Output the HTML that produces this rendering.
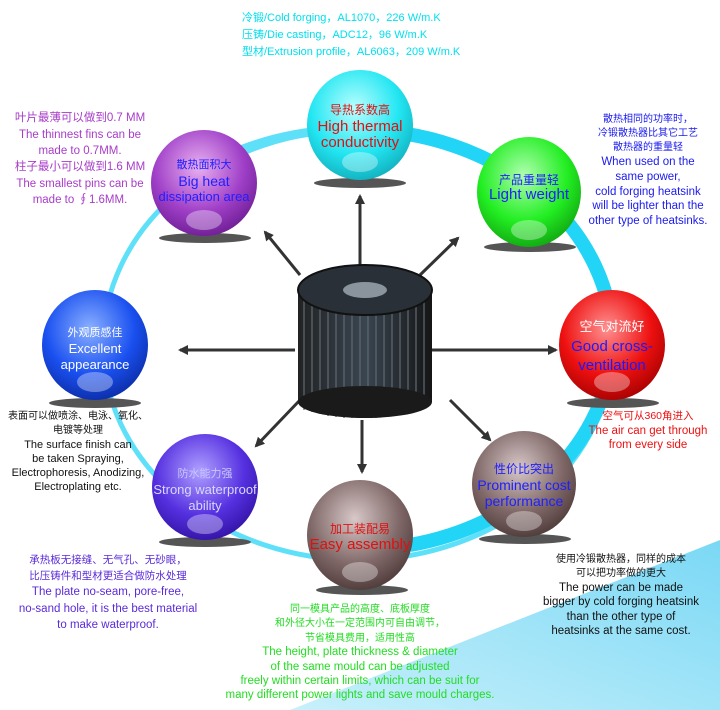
<!DOCTYPE html>
<html><head><meta charset="utf-8"><style>
html,body{margin:0;padding:0;background:#fff;}
svg{display:block;font-family:"Liberation Sans","Noto Sans CJK SC",sans-serif;}
</style></head><body>
<svg width="720" height="710" viewBox="0 0 720 710" xmlns="http://www.w3.org/2000/svg">
<defs>
<linearGradient id="bg" x1="0" y1="1" x2="1" y2="0">
<stop offset="0" stop-color="#c8f0fb"/><stop offset="1" stop-color="#7ad8f5"/></linearGradient>
<radialGradient id="gc" cx="0.45" cy="0.35" r="0.7"><stop offset="0" stop-color="#b8ffff"/><stop offset="0.6" stop-color="#22e6f2"/><stop offset="1" stop-color="#10aab8"/></radialGradient>
<radialGradient id="gp" cx="0.45" cy="0.35" r="0.7"><stop offset="0" stop-color="#e8b0f0"/><stop offset="0.6" stop-color="#a040c8"/><stop offset="1" stop-color="#6a1a90"/></radialGradient>
<radialGradient id="gg" cx="0.45" cy="0.35" r="0.7"><stop offset="0" stop-color="#b0ffb0"/><stop offset="0.6" stop-color="#22ee22"/><stop offset="1" stop-color="#10a010"/></radialGradient>
<radialGradient id="gb" cx="0.45" cy="0.35" r="0.7"><stop offset="0" stop-color="#8ab0ff"/><stop offset="0.6" stop-color="#1a50f0"/><stop offset="1" stop-color="#0a2aa0"/></radialGradient>
<radialGradient id="gr" cx="0.45" cy="0.35" r="0.7"><stop offset="0" stop-color="#ff9090"/><stop offset="0.6" stop-color="#ee1010"/><stop offset="1" stop-color="#a00000"/></radialGradient>
<radialGradient id="gi" cx="0.45" cy="0.35" r="0.7"><stop offset="0" stop-color="#b0a0ff"/><stop offset="0.6" stop-color="#5530e0"/><stop offset="1" stop-color="#3010a0"/></radialGradient>
<radialGradient id="gm" cx="0.45" cy="0.35" r="0.7"><stop offset="0" stop-color="#d8c8c8"/><stop offset="0.6" stop-color="#806868"/><stop offset="1" stop-color="#4a3636"/></radialGradient>
<linearGradient id="hs" x1="0" x2="1"><stop offset="0" stop-color="#222"/><stop offset="0.5" stop-color="#3a4550"/><stop offset="1" stop-color="#151515"/></linearGradient>
<marker id="ar" markerWidth="10" markerHeight="10" refX="8" refY="5" orient="auto" markerUnits="userSpaceOnUse"><path d="M0,0 L10,5 L0,10 Z" fill="#333"/></marker>
</defs>
<polygon points="290,710 720,540 720,710" fill="url(#bg)"/>
<ellipse cx="358" cy="345" rx="255" ry="215" fill="none" stroke="#5ee0f8" stroke-width="5"/>
<path d="M360,130 A255,215 0 0 1 613,345 A255,215 0 0 1 410,545" fill="none" stroke="#22d4f5" stroke-width="14"/>
<path d="M200,170 A255,215 0 0 1 360,130" fill="none" stroke="#5ee0f8" stroke-width="9"/>
<!-- arrows -->
<g stroke="#333" stroke-width="3" marker-end="url(#ar)">
<line x1="360" y1="265" x2="360" y2="196"/>
<line x1="300" y1="275" x2="265" y2="232"/>
<line x1="420" y1="275" x2="458" y2="238"/>
<line x1="295" y1="350" x2="180" y2="350"/>
<line x1="430" y1="350" x2="556" y2="350"/>
<line x1="300" y1="400" x2="256" y2="446"/>
<line x1="362" y1="420" x2="362" y2="472"/>
<line x1="450" y1="400" x2="490" y2="440"/>
</g>
<!-- heatsink -->
<rect x="298" y="290" width="134" height="112" fill="url(#hs)"/>
<g stroke="#5a6670" stroke-width="1.3">
<line x1="304" y1="295" x2="304" y2="410"/><line x1="312" y1="295" x2="312" y2="412"/><line x1="320" y1="295" x2="320" y2="414"/><line x1="328" y1="295" x2="328" y2="416"/><line x1="336" y1="295" x2="336" y2="417"/><line x1="344" y1="295" x2="344" y2="418"/><line x1="352" y1="295" x2="352" y2="418"/><line x1="360" y1="295" x2="360" y2="418"/><line x1="368" y1="295" x2="368" y2="418"/><line x1="376" y1="295" x2="376" y2="418"/><line x1="384" y1="295" x2="384" y2="417"/><line x1="392" y1="295" x2="392" y2="416"/><line x1="400" y1="295" x2="400" y2="414"/><line x1="408" y1="295" x2="408" y2="412"/><line x1="416" y1="295" x2="416" y2="410"/><line x1="424" y1="295" x2="424" y2="406"/>
</g>
<ellipse cx="365" cy="402" rx="67" ry="16" fill="#1a1a1a"/>
<ellipse cx="365" cy="290" rx="67" ry="25" fill="#2a3038" stroke="#111" stroke-width="2"/>
<ellipse cx="365" cy="290" rx="22" ry="8" fill="#8a949c"/>
<!-- eggs -->
<g>
<ellipse cx="360" cy="183" rx="46" ry="5" fill="#555"/>
<ellipse cx="360" cy="125" rx="53" ry="55" fill="url(#gc)"/>
<ellipse cx="205" cy="238" rx="46" ry="5" fill="#555"/>
<ellipse cx="204" cy="183" rx="53" ry="53" fill="url(#gp)"/>
<ellipse cx="530" cy="247" rx="46" ry="5" fill="#555"/>
<ellipse cx="529" cy="192" rx="52" ry="55" fill="url(#gg)"/>
<ellipse cx="95" cy="403" rx="46" ry="5" fill="#555"/>
<ellipse cx="95" cy="345" rx="53" ry="55" fill="url(#gb)"/>
<ellipse cx="613" cy="403" rx="46" ry="5" fill="#555"/>
<ellipse cx="612" cy="345" rx="53" ry="55" fill="url(#gr)"/>
<ellipse cx="205" cy="542" rx="46" ry="5" fill="#555"/>
<ellipse cx="205" cy="487" rx="53" ry="53" fill="url(#gi)"/>
<ellipse cx="362" cy="590" rx="46" ry="5" fill="#555"/>
<ellipse cx="360" cy="535" rx="53" ry="55" fill="url(#gm)"/>
<ellipse cx="525" cy="539" rx="46" ry="5" fill="#555"/>
<ellipse cx="524" cy="484" rx="52" ry="53" fill="url(#gm)"/>
</g>
<g fill="#fff" opacity="0.35">
<ellipse cx="360" cy="162" rx="18" ry="10"/><ellipse cx="204" cy="220" rx="18" ry="10"/><ellipse cx="529" cy="230" rx="18" ry="10"/><ellipse cx="95" cy="382" rx="18" ry="10"/><ellipse cx="612" cy="382" rx="18" ry="10"/><ellipse cx="205" cy="524" rx="18" ry="10"/><ellipse cx="360" cy="572" rx="18" ry="10"/><ellipse cx="524" cy="521" rx="18" ry="10"/>
</g>
<!-- node labels -->
<g text-anchor="middle">
<text x="360" y="114" font-size="12" fill="#e01010">导热系数高</text>
<text x="360" y="131" font-size="15" fill="#e01010">High thermal</text>
<text x="360" y="147" font-size="15" fill="#e01010">conductivity</text>
<text x="204" y="168" font-size="11" fill="#2020ff">散热面积大</text>
<text x="204" y="186" font-size="14" fill="#2020ff">Big heat</text>
<text x="204" y="201" font-size="13" fill="#2020ff">dissipation area</text>
<text x="529" y="184" font-size="12" fill="#2020ff">产品重量轻</text>
<text x="529" y="199" font-size="15" fill="#2020ff">Light weight</text>
<text x="95" y="336" font-size="11" fill="#fff">外观质感佳</text>
<text x="95" y="353" font-size="13" fill="#fff">Excellent</text>
<text x="95" y="369" font-size="13" fill="#fff">appearance</text>
<text x="612" y="331" font-size="13" fill="#fff">空气对流好</text>
<text x="612" y="351" font-size="15" fill="#1a1aff">Good cross-</text>
<text x="612" y="370" font-size="15" fill="#1a1aff">ventilation</text>
<text x="205" y="477" font-size="11" fill="#c8c8ff">防水能力强</text>
<text x="205" y="494" font-size="13" fill="#d8d8ff">Strong waterproof</text>
<text x="205" y="510" font-size="13" fill="#d8d8ff">ability</text>
<text x="360" y="533" font-size="12" fill="#e01010">加工装配易</text>
<text x="360" y="549" font-size="15" fill="#e01010">Easy assembly</text>
<text x="524" y="473" font-size="12" fill="#2020ff">性价比突出</text>
<text x="524" y="490" font-size="14" fill="#2020ff">Prominent cost</text>
<text x="524" y="506" font-size="14" fill="#2020ff">performance</text>
</g>
<!-- descriptive texts -->
<g font-size="11" fill="#00e0ee">
<text x="242" y="21">冷锻/Cold forging，AL1070，226 W/m.K</text>
<text x="242" y="38">压铸/Die casting，ADC12，96 W/m.K</text>
<text x="242" y="55">型材/Extrusion profile，AL6063，209 W/m.K</text>
</g>
<g text-anchor="middle" font-size="11.5" fill="#a83cc8">
<text x="80" y="121">叶片最薄可以做到0.7 MM</text>
<text x="80" y="138">The thinnest fins can be</text>
<text x="80" y="154">made to 0.7MM.</text>
<text x="80" y="170">柱子最小可以做到1.6 MM</text>
<text x="80" y="187">The smallest pins can be</text>
<text x="80" y="203">made to ∮1.6MM.</text>
</g>
<g text-anchor="middle" font-size="11.5" fill="#1a1aee">
<text x="648" y="122" font-size="10">散热相同的功率时，</text>
<text x="648" y="136" font-size="10">冷锻散热器比其它工艺</text>
<text x="648" y="150" font-size="10">散热器的重量轻</text>
<text x="648" y="165">When used on the</text>
<text x="648" y="180">same power,</text>
<text x="648" y="195">cold forging heatsink</text>
<text x="648" y="209">will be lighter than the</text>
<text x="648" y="224">other type of heatsinks.</text>
</g>
<g text-anchor="middle" font-size="11" fill="#111">
<text x="78" y="419" font-size="10">表面可以做喷涂、电泳、氧化、</text>
<text x="78" y="433" font-size="10">电镀等处理</text>
<text x="78" y="448">The surface finish can</text>
<text x="78" y="462">be taken Spraying,</text>
<text x="78" y="476">Electrophoresis, Anodizing,</text>
<text x="78" y="490">Electroplating etc.</text>
</g>
<g text-anchor="middle" font-size="11.5" fill="#ee1010">
<text x="648" y="419" font-size="10.5">空气可从360角进入</text>
<text x="648" y="434">The air can get through</text>
<text x="648" y="448">from every side</text>
</g>
<g text-anchor="middle" font-size="11.5" fill="#5a2ad8">
<text x="108" y="563" font-size="10.5">承热板无接缝、无气孔、无砂眼，</text>
<text x="108" y="579" font-size="10.5">比压铸件和型材更适合做防水处理</text>
<text x="108" y="595">The plate no-seam, pore-free,</text>
<text x="108" y="612">no-sand hole, it is the best material</text>
<text x="108" y="628">to make waterproof.</text>
</g>
<g text-anchor="middle" font-size="11.5" fill="#22dd22">
<text x="360" y="612" font-size="10">同一模具产品的高度、底板厚度</text>
<text x="360" y="626" font-size="10">和外径大小在一定范围内可自由调节，</text>
<text x="360" y="641" font-size="10">节省模具费用，适用性高</text>
<text x="360" y="655">The height, plate thickness &amp; diameter</text>
<text x="360" y="670">of the same mould can be adjusted</text>
<text x="360" y="684">freely within certain limits, which  can be suit for</text>
<text x="360" y="698">many different power lights and save mould charges.</text>
</g>
<g text-anchor="middle" font-size="11.5" fill="#111">
<text x="621" y="562" font-size="10">使用冷锻散热器，同样的成本</text>
<text x="621" y="576" font-size="10">可以把功率做的更大</text>
<text x="621" y="591">The power can be made</text>
<text x="621" y="605">bigger by cold forging heatsink</text>
<text x="621" y="620">than the other type of</text>
<text x="621" y="634">heatsinks at the same cost.</text>
</g>
</svg>
</body></html>
